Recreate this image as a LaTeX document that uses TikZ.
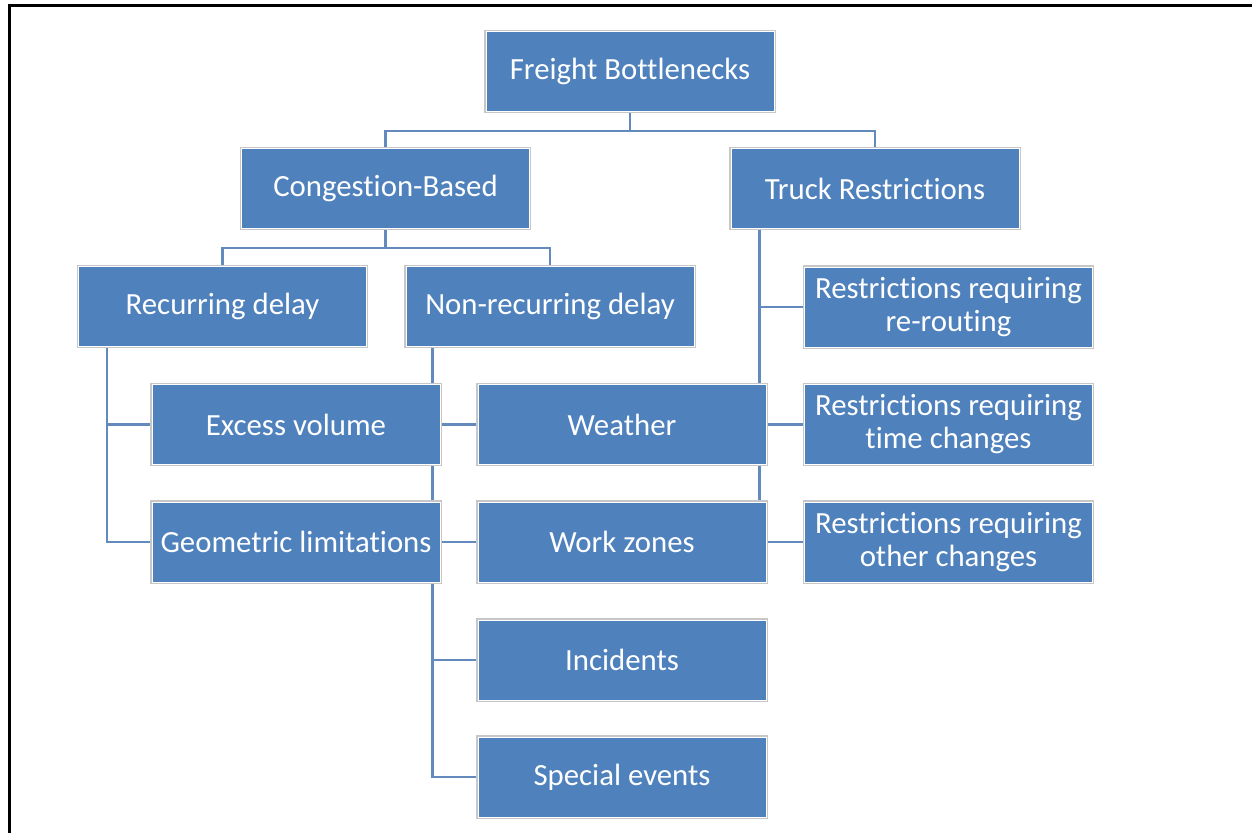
\documentclass[tikz,border=0pt]{standalone}
\usepackage{fontspec}
\setmainfont[RawFeature={-liga;-clig;-dlig;-calt}]{Carlito}
\usetikzlibrary{calc}
\pgfdeclarelayer{bg}
\pgfsetlayers{bg,main}
\definecolor{boxblue}{HTML}{4F81BD}
\definecolor{connblue}{RGB}{98,138,188}
\tikzset{
  box/.style={rectangle, fill=boxblue, draw=white, line width=1pt,
    preaction={draw=black!22, line width=3.5pt},
    minimum width=288pt, minimum height=80pt, inner sep=0pt,
    text=white, align=center, font=\fontsize{30.8}{33}\selectfont},
  conn/.style={draw=connblue, line width=2.6pt},
  frameline/.style={draw=black, line width=3pt}
}
\begin{document}
\begin{tikzpicture}[x=1pt,y=-1pt]
\useasboundingbox (0,0) rectangle (1252,833);
\draw[frameline] (9,833) -- (9,5) -- (1252,5);

\node[box] (fb) at (630,71.5) {Freight Bottlenecks};
\node[box] (cb) at (385.5,188.5) {Congestion-Based};
\node[box] (tr) at (875,188.5) {Truck Restrictions};
\node[box] (rd) at (222.5,306.5) {Recurring delay};
\node[box] (nrd) at (550,306.5) {Non-recurring delay};
\node[box] (rr) at (948.5,307) {Restrictions requiring\\re-routing};
\node[box] (ev) at (296,424.5) {Excess volume};
\node[box] (we) at (622,424.5) {Weather};
\node[box] (rt) at (948.5,424.5) {Restrictions requiring\\time changes};
\node[box] (gl) at (296,542) {Geometric limitations};
\node[box] (wz) at (622,542) {Work zones};
\node[box] (ro) at (948.5,542) {Restrictions requiring\\other changes};
\node[box] (inc) at (622,660) {Incidents};
\node[box] (se) at (622,777) {Special events};

\begin{pgfonlayer}{bg}
\draw[conn] (fb.south) -- ++(0,19) coordinate (b1);
\draw[conn] (cb.north) |- (b1) -| (tr.north);
\draw[conn] (cb.south) -- ++(0,19) coordinate (b2);
\draw[conn] (rd.north) |- (b2) -| (nrd.north);
\coordinate (r0) at ($(rd.south west)+(29,0)$);
\draw[conn] (r0) |- (gl.west);
\draw[conn] (r0) |- (ev.west);
\coordinate (n0) at ($(nrd.south west)+(27,0)$);
\draw[conn] (n0) |- (se.west);
\draw[conn] (n0) |- (inc.west);
\draw[conn] (n0) |- (wz.west);
\draw[conn] (n0) |- (we.west);
\coordinate (t0) at ($(tr.south west)+(29,0)$);
\draw[conn] (t0) |- (ro.west);
\draw[conn] (t0) |- (rt.west);
\draw[conn] (t0) |- (rr.west);
\end{pgfonlayer}
\end{tikzpicture}
\end{document}
